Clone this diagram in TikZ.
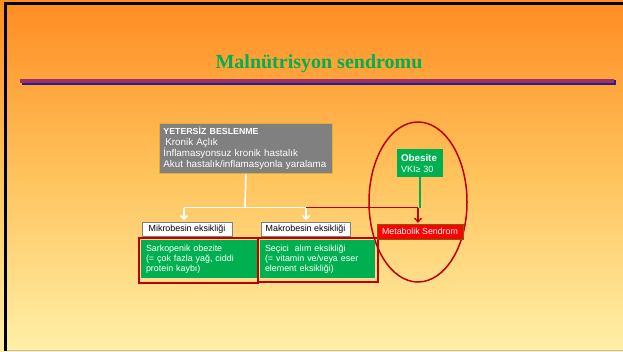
\documentclass[tikz,border=0pt]{standalone}
\usepackage{fontspec}
\setmainfont{Liberation Sans}
\newfontfamily\timesf{Liberation Serif}
\usetikzlibrary{shapes.geometric,arrows.meta}
\definecolor{bgtop}{HTML}{FF8C22}
\definecolor{bgmid}{HTML}{FFC35C}
\definecolor{bgbot}{HTML}{FFF0A8}
\definecolor{tgreen}{HTML}{00B050}
\definecolor{dred}{HTML}{C00000}
\definecolor{purp}{HTML}{993366}
\definecolor{shblue}{HTML}{2E1A8A}
\definecolor{olive}{HTML}{7F6000}
\definecolor{gborder}{HTML}{E0B030}
\begin{document}
\begin{tikzpicture}[x=1pt,y=-1pt,
  graybox/.style={fill=black!50,draw=gborder,line width=0.8pt,text=white,align=left,inner xsep=4pt,inner ysep=0pt,
    font=\fontsize{9.8}{10.5}\selectfont},
  labbox/.style={fill=white,draw=black!50,line width=0.8pt,inner sep=0pt,font=\fontsize{8.9}{10}\selectfont},
  grnbox/.style={fill=tgreen,text=white,align=left,inner xsep=5pt,inner ysep=0pt,font=\fontsize{8.9}{10}\selectfont},
  redframe/.style={draw=dred,line width=1.3pt,inner sep=0pt},
  wline/.style={draw=white,line width=1.5pt},
  rline/.style={draw=dred,line width=1.5pt},
  barb/.style={-{Straight Barb[length=4pt,width=7pt,line width=1.3pt]}}
]
\useasboundingbox (0,0) rectangle (623,351);
\shade[top color=bgtop,bottom color=bgbot,middle color=bgmid] (0,0) rectangle (623,351);
\draw[line width=3pt] (5.8,351) -- (5.8,3.8) -- (623,3.8);
\draw[line width=1pt,color=black!25] (7,350.5) -- (623,350.5);

% title
\node[font=\timesf\bfseries\fontsize{20}{24}\selectfont,text=tgreen,anchor=base,inner sep=0pt] (title) at (319,68) {Malnütrisyon sendromu};
\fill[shblue] (22,80.3) rectangle (616,84.5);
\fill[purp] (20,79) rectangle (613.5,82.7);

% gray box
\node[graybox,anchor=north west,minimum width=173,minimum height=50,text width=165] (gray) at (159,123)
 {{\bfseries\fontsize{8.8}{10.5}\selectfont YETERSİZ BESLENME}\\
  \hspace*{2pt}Kronik Açlık\\
  İnflamasyonsuz kronik hastalık\\
  Akut hastalık/inflamasyonla yaralama};

% ellipse
\node[draw=dred,line width=1.5pt,ellipse,minimum width=98,minimum height=160,inner sep=0pt] (ell) at (418,202) {};

% label boxes
\node[labbox,minimum width=90,minimum height=14] (mikro) at (187,229) {Mikrobesin eksikliği};
\node[labbox,minimum width=89,minimum height=14] (makro) at (305.5,229) {Makrobesin eksikliği};

% green boxes with red frames
\node[grnbox,minimum width=116,minimum height=38,text width=106] (g1) at (199,259)
 {Sarkopenik obezite\\(= çok fazla yağ, ciddi\\protein kaybı)};
\node[grnbox,minimum width=115,minimum height=38,text width=105] (g2) at (317.5,259)
 {Seçici\ \ alım eksikliği\\(= vitamin ve/veya eser\\element eksikliği)};
\node[redframe,minimum width=119,minimum height=45] (f1) at (198.5,260.5) {};
\node[redframe,minimum width=120,minimum height=44] (f2) at (318,260) {};

% obesite
\node[fill=tgreen,text=white,align=left,inner xsep=4pt,inner ysep=0pt,minimum width=46,minimum height=28,text width=38,
  font=\fontsize{9}{11}\selectfont] (obes) at (420,163)
 {{\bfseries\fontsize{9.8}{11}\selectfont Obesite}\\VKI≥ 30};

% metabolik sendrom
\node[fill=red,draw=olive,line width=1pt,text=white,inner sep=0pt,minimum width=86,minimum height=15,
  font=\fontsize{8.8}{10}\selectfont] (met) at (420,231.5) {Metabolik Sendrom};

% connectors
\coordinate (jc) at (245,207.7);
\coordinate (jl) at (184,207.7);
\coordinate (jr) at (306,207.7);
\coordinate (al) at (184,220.5);
\coordinate (ar) at (306,220.5);
\coordinate (jm) at (418,207.7);
\coordinate (am) at (418,223);
\draw[wline] (gray.south) -- (jc);
\draw[wline] (jl) -- (jr);
\draw[wline,barb] (jl) -- (al);
\draw[wline,barb] (jr) -- (ar);
\draw[draw=tgreen,line width=1.2pt] (obes.south) -- (obes.south |- jm);
\draw[rline] (jr) -- (jm);
\draw[rline,barb] (jm) -- (am);
\end{tikzpicture}
\end{document}
